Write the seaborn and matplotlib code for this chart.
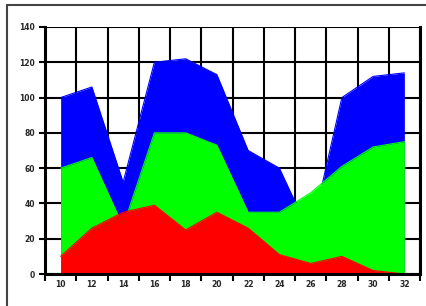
import numpy as np
import pandas as pd
import seaborn as sns
import matplotlib.pyplot as plt
from matplotlib.lines import Line2D

# Data (overlapping areas, not stacked)
categories = ['10', '12', '14', '16', '18', '20', '22', '24', '26', '28', '30', '32']
blue_vals = [100, 106, 52, 120, 122, 113, 70, 60, 22, 100, 112, 114]
green_vals = [60, 66, 27, 80, 80, 73, 35, 35, 46, 61, 72, 75]
red_vals = [10, 26, 35, 39, 25, 35, 26, 11, 6, 10, 2, 0]
y_ticks = [0, 20, 40, 60, 80, 100, 120, 140]

df = pd.DataFrame({'x': np.arange(len(categories)),
                   'blue': blue_vals, 'green': green_vals, 'red': red_vals})

sns.set_style('white')
plt.rcParams['font.family'] = ['DejaVu Sans']

fig = plt.figure(figsize=(4.26, 3.06), dpi=100)
ax = fig.add_axes([45 / 426, 32 / 306, 375 / 426, 247 / 306])

# gridlines behind the areas
ax.set_axisbelow(True)
ax.set_xticks(np.arange(len(categories) + 1) - 0.5, minor=True)
ax.set_xticks(df['x'])
ax.set_xticklabels(categories)
ax.set_yticks(y_ticks)
ax.grid(True, which='minor', axis='x', color='black', linewidth=1.5)
ax.grid(True, which='major', axis='y', color='black', linewidth=1.5)
ax.grid(False, which='major', axis='x')

colors = {'blue': '#0000ff', 'green': '#00ff00', 'red': '#ff0000'}
for name in ['blue', 'green', 'red']:
    ax.fill_between(df['x'], 0, df[name], color=colors[name], linewidth=0, zorder=2)
    sns.lineplot(data=df, x='x', y=name, color=colors[name], linewidth=0.8, ax=ax, zorder=2)

ax.set_xlim(-0.5, len(categories) - 0.5)
ax.set_ylim(0, 140)
ax.set_xlabel('')
ax.set_ylabel('')

for side in ['left', 'bottom', 'right']:
    ax.spines[side].set_visible(True)
    ax.spines[side].set_color('black')
    ax.spines[side].set_linewidth(2.2)
    ax.spines[side].set_zorder(3)
ax.spines['top'].set_visible(False)

ax.tick_params(axis='y', which='major', direction='out', length=4, width=1.5,
               color='black', labelsize=5.5, pad=3, left=True)
ax.tick_params(axis='x', which='major', length=0, labelsize=5.5, pad=4)
ax.tick_params(axis='x', which='minor', direction='out', length=5, width=1.5,
               color='black', bottom=True)
for lbl in ax.get_xticklabels() + ax.get_yticklabels():
    lbl.set_fontweight('bold')

# outer chart frame (left and top edges visible)
fig.add_artist(Line2D([7 / 426, 7 / 426], [0, 1 - 5 / 306], color='#444444', linewidth=1.5))
fig.add_artist(Line2D([7 / 426, 1], [1 - 5 / 306, 1 - 5 / 306], color='#444444', linewidth=1.5))

fig.savefig('out.png', dpi=100)
